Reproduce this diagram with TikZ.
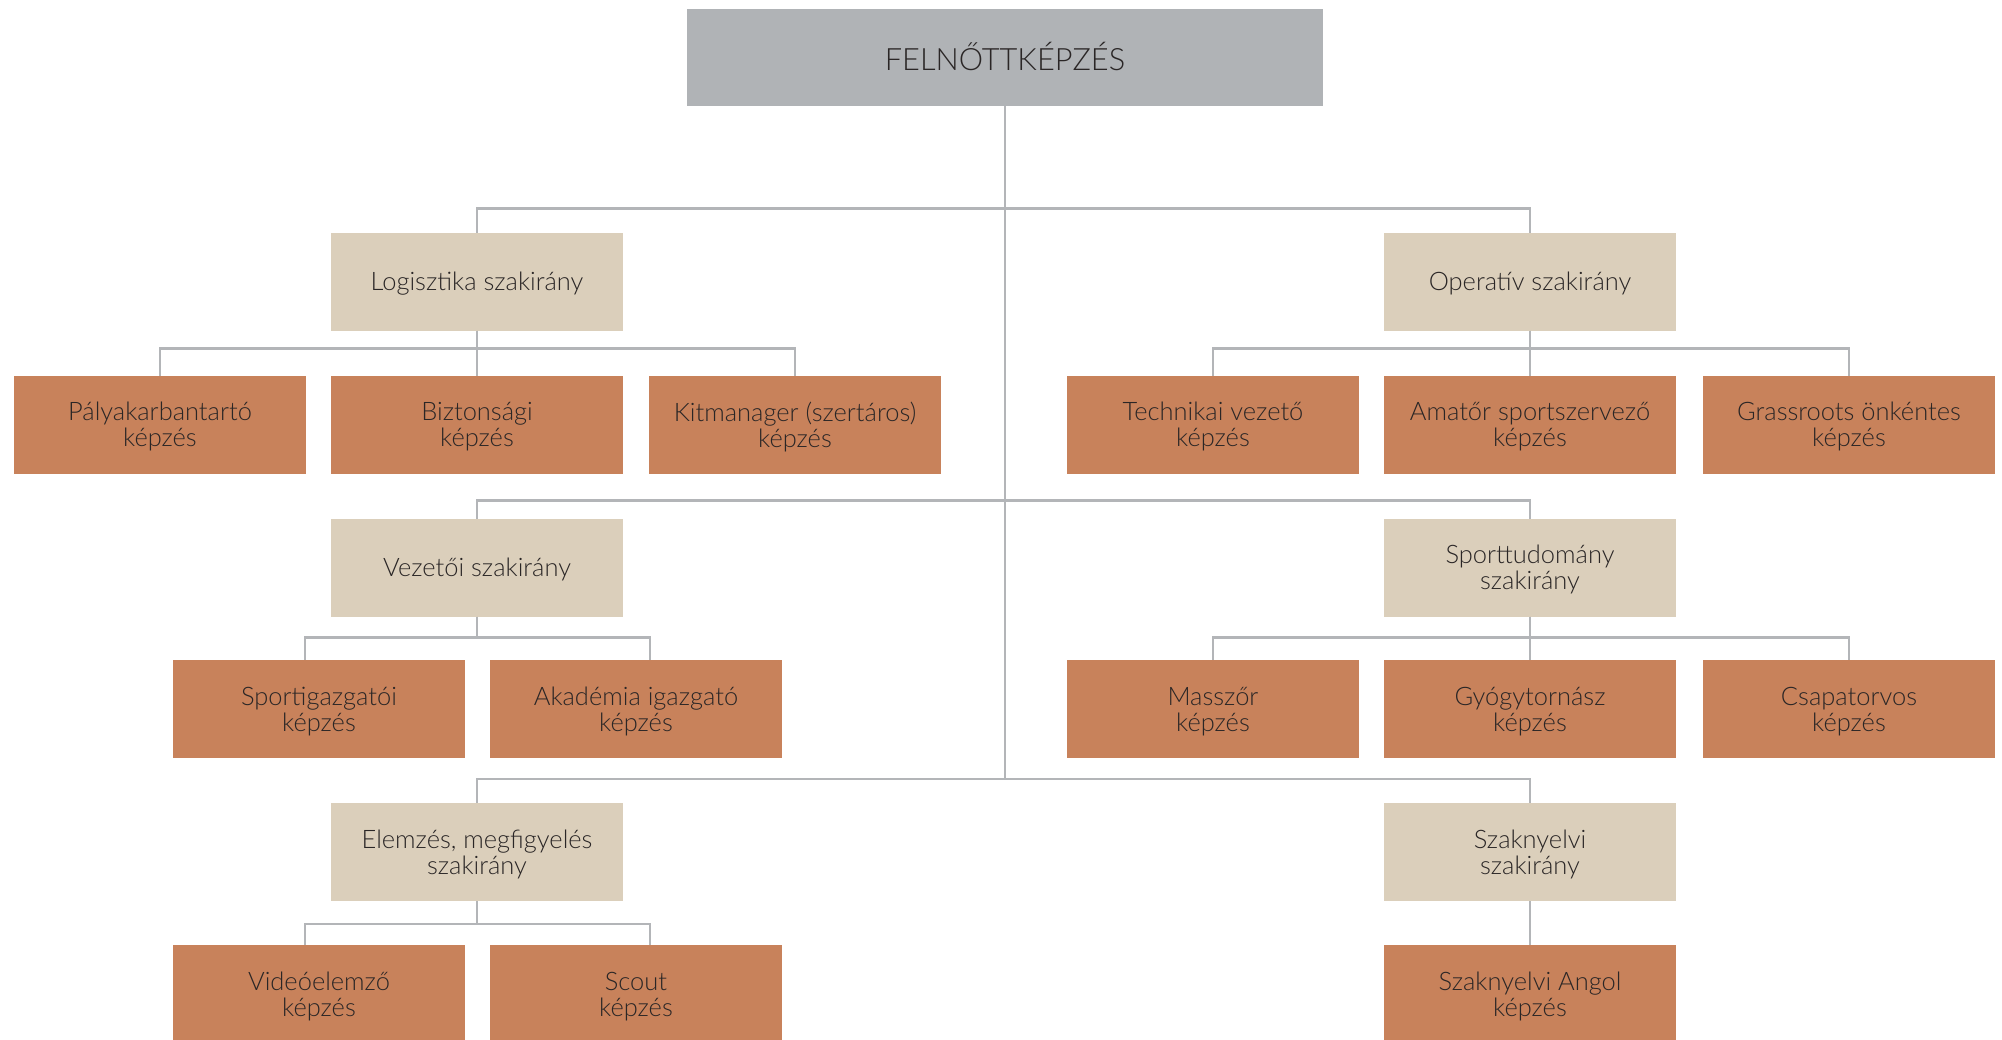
\documentclass[tikz,border=0pt]{standalone}
\usepackage{fontspec}
\setmainfont{Lato}[UprightFont=* Light]
\definecolor{gris}{HTML}{B0B3B6}
\definecolor{beige}{HTML}{DBCFBB}
\definecolor{naranja}{HTML}{C8825B}
\definecolor{conector}{HTML}{B3B5B8}
\definecolor{texto}{HTML}{2A2626}
\begin{document}
\begin{tikzpicture}[x=0.02cm,y=-0.02cm,
  caja/.style={inner sep=0pt,outer sep=0pt,align=center,text=texto,
    minimum width=5.84cm,minimum height=1.96cm,text depth=-0.5pt,
    font=\fontsize{14.5}{14.8}\selectfont},
  raiz/.style={caja,fill=gris,minimum width=12.72cm,minimum height=1.94cm,
    text depth=1.4pt,font=\fontsize{17.5}{19}\selectfont},
  rama/.style={caja,fill=beige},
  hoja/.style={caja,fill=naranja},
  linea/.style={draw=conector,line width=1.6pt}]
\useasboundingbox (0,0) rectangle (2002,1039);
% Raiz
\node[raiz] (felnott) at (1005,57.5) {FELNŐTTKÉPZÉS};
% Ramas
\node[rama] (logi) at (477,281.5) {Logisztika szakirány};
\node[rama] (oper) at (1530,281.5) {Operatív szakirány};
\node[rama] (vez) at (477,567.5) {Vezetői szakirány};
\node[rama] (sporttud) at (1530,567.5) {Sporttudomány\\szakirány};
\node[rama] (elem) at (477,852) {Elemzés, megfigyelés\\szakirány};
\node[rama] (szak) at (1530,852) {Szaknyelvi\\szakirány};
% Hojas
\node[hoja] (palya) at (160,424.5) {Pályakarbantartó\\képzés};
\node[hoja] (bizt) at (477,424.5) {Biztonsági\\képzés};
\node[hoja] (kit) at (795,424.5) {Kitmanager (szertáros)\\képzés};
\node[hoja] (tech) at (1213,424.5) {Technikai vezető\\képzés};
\node[hoja] (amat) at (1530,424.5) {Amatőr sportszervező\\képzés};
\node[hoja] (grass) at (1849,424.5) {Grassroots önkéntes\\képzés};
\node[hoja] (sportig) at (319,709) {Sportigazgatói\\képzés};
\node[hoja] (akad) at (636,709) {Akadémia igazgató\\képzés};
\node[hoja] (masszor) at (1213,709) {Masszőr\\képzés};
\node[hoja] (gyogy) at (1530,709) {Gyógytornász\\képzés};
\node[hoja] (csapat) at (1849,709) {Csapatorvos\\képzés};
\node[hoja] (video) at (319,994) {Videóelemző\\képzés};
\node[hoja] (scout) at (636,994) {Scout\\képzés};
\node[hoja] (angol) at (1530,994) {Szaknyelvi Angol\\képzés};
% Tronco
\draw[linea] (felnott.south) -- ([yshift=0.48cm]felnott.south |- elem.north);
\draw[linea] (logi.north) -- ++(0,-24) -| (oper.north);
\draw[linea] (vez.north) -- ++(0,-18) -| (sporttud.north);
\draw[linea] (elem.north) -- ++(0,-24) -| (szak.north);
% Conectores
\draw[linea] (logi.south) -- ++(0,18) -| (palya.north);
\draw[linea] (logi.south) -- ++(0,18) -| (kit.north);
\draw[linea] (logi.south) -- (bizt.north);
\draw[linea] (oper.south) -- ++(0,18) -| (tech.north);
\draw[linea] (oper.south) -- ++(0,18) -| (grass.north);
\draw[linea] (oper.south) -- (amat.north);
\draw[linea] (vez.south) -- ++(0,21) -| ([xshift=-0.28cm]sportig.north);
\draw[linea] (vez.south) -- ++(0,21) -| ([xshift=0.28cm]akad.north);
\draw[linea] (sporttud.south) -- ++(0,21) -| (masszor.north);
\draw[linea] (sporttud.south) -- ++(0,21) -| (csapat.north);
\draw[linea] (sporttud.south) -- (gyogy.north);
\draw[linea] (elem.south) -- ++(0,23) -| ([xshift=-0.28cm]video.north);
\draw[linea] (elem.south) -- ++(0,23) -| ([xshift=0.28cm]scout.north);
\draw[linea] (szak.south) -- (angol.north);
\end{tikzpicture}
\end{document}
